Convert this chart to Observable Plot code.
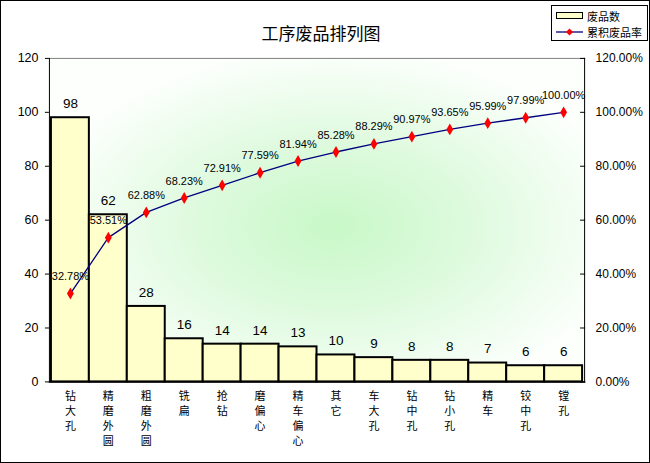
<!DOCTYPE html>
<html><head><meta charset="utf-8">
<script src="https://cdn.jsdelivr.net/npm/d3@7"></script>
<script src="https://cdn.jsdelivr.net/npm/@observablehq/plot@0.6"></script>
<style>
body{margin:0;background:#fff;}
#wrap{position:relative;width:650px;height:463px;box-sizing:border-box;border:1px solid #000;overflow:hidden;background:#fff;}
#chart{position:absolute;left:-1px;top:-1px;}
#title{position:absolute;left:0;width:640px;top:19px;text-align:center;font:17px "Noto Sans CJK SC",sans-serif;color:#000;}
#legend{position:absolute;left:550px;top:4px;width:97px;height:36px;box-sizing:border-box;border:1px solid #000;background:#fff;font:11px "Noto Sans CJK SC",sans-serif;}
#legend .row{position:absolute;left:4px;height:14px;display:flex;align-items:center;}
#legend svg{margin-right:3px;}
</style>
</head><body>
<div id="wrap">
<div id="chart"></div>
<div id="title"></div>
<div id="legend"></div>
</div>
<script>
const titleText = "工序废品排列图";
const seriesNames = ["废品数", "累积废品率"];
const categories = ["钻大孔","精磨外圆","粗磨外圆","铣扁","抢钻","磨偏心","精车偏心","其它","车大孔","钻中孔","钻小孔","精车","铰中孔","镗孔"];
const counts = [98,62,28,16,14,14,13,10,9,8,8,7,6,6];
const cumPct = [32.78,53.51,62.88,68.23,72.91,77.59,81.94,85.28,88.29,90.97,93.65,95.99,97.99,100.00];
const yTicks = [0,20,40,60,80,100,120];

const data = categories.map((c,i)=>({cat:c,count:counts[i],pct:cumPct[i]}));
const numFont = "Liberation Sans, Arial, sans-serif";

const plot = Plot.plot({
  width: 650, height: 463,
  marginLeft: 49, marginRight: 65, marginTop: 58, marginBottom: 81,
  style: {fontFamily: numFont, color: "#000", background: "transparent"},
  x: {domain: categories, padding: 0, axis: null},
  y: {domain: [0,120], axis: null},
  marks: [
    Plot.frame({fill: "url(#bgGrad)", stroke: null}),
    Plot.barY(data, {x: "cat", y: "count", fill: "#FFFFCC", stroke: "#000", strokeWidth: 2}),
    Plot.frame({anchor: "top", stroke: "#808080"}),
    Plot.frame({anchor: "left", stroke: "#000"}),
    Plot.frame({anchor: "right", stroke: "#000"}),
    Plot.frame({anchor: "bottom", stroke: "#000", strokeWidth: 1.5}),
    Plot.axisY({anchor: "left", ticks: yTicks, tickSize: 4, tickPadding: 7, fontSize: 12.5, fontFamily: numFont}),
    Plot.axisY({anchor: "right", ticks: yTicks, tickSize: 5, dx: -5, text: null}),
    Plot.axisY({anchor: "right", ticks: yTicks, tickSize: 0, tickPadding: 11, fontSize: 12, fontFamily: numFont, tickFormat: d => d.toFixed(2) + "%"}),
    Plot.axisX({tickSize: 0, tickPadding: 8, fontSize: 11, lineHeight: 1.35, label: null, fontFamily: "Noto Sans CJK SC", tickFormat: d => d.split("").join("\n")}),
    Plot.lineY(data, {x: "cat", y: "pct", stroke: "#000080", strokeWidth: 1.3}),
    Plot.dot(data, {x: "cat", y: "pct", symbol: "diamond", fill: "#FF0000", r: 3.6}),
    Plot.text(data, {x: "cat", y: "count", text: d => String(d.count), dy: -14, fontSize: 13.5, fontFamily: numFont}),
    Plot.text(data, {x: "cat", y: "pct", text: d => d.pct.toFixed(2) + "%", dy: -17, fontSize: 11, fontFamily: numFont})
  ]
});
plot.insertAdjacentHTML("afterbegin",
  `<defs><radialGradient id="bgGrad" cx="53%" cy="52%" r="55%">
     <stop offset="0" stop-color="#c8f8c8"/>
     <stop offset="0.45" stop-color="#ddfadd"/>
     <stop offset="1" stop-color="#fcfffc"/>
   </radialGradient></defs>`);
document.getElementById("chart").appendChild(plot);
document.getElementById("title").textContent = titleText;

const lg = document.getElementById("legend");
lg.innerHTML =
  `<div class="row" style="top:3px"><svg width="28" height="10"><rect x="0.5" y="1.5" width="26" height="6" fill="#FFFFCC" stroke="#000"/></svg><span>${seriesNames[0]}</span></div>
   <div class="row" style="top:19px"><svg width="28" height="10"><line x1="0" y1="5" x2="27" y2="5" stroke="#000080" stroke-width="1.3"/><path d="M13.5 1.5 L17 5 L13.5 8.5 L10 5 Z" fill="#FF0000"/></svg><span>${seriesNames[1]}</span></div>`;
</script>
</body></html>
